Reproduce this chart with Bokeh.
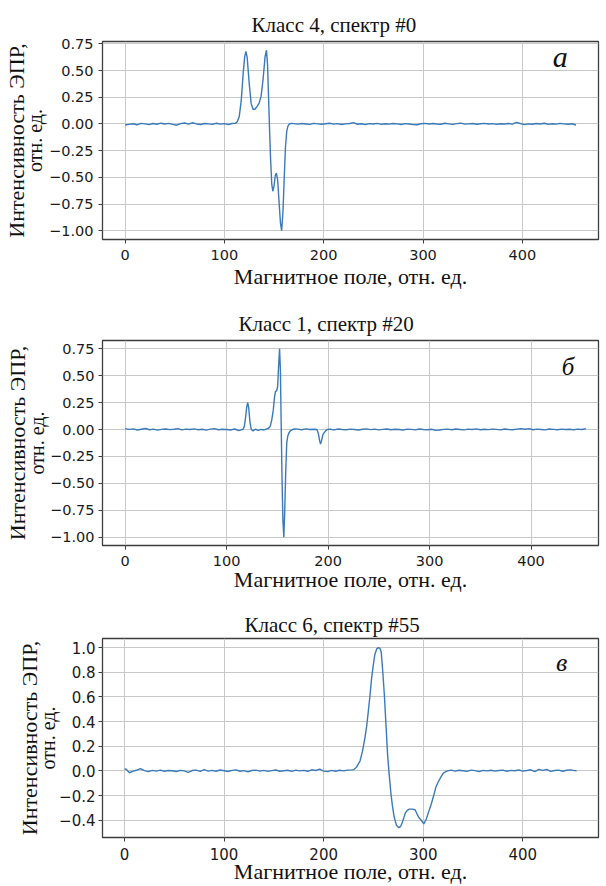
from bokeh.plotting import figure
from bokeh.layouts import column
from bokeh.models import Label, FixedTicker, Range1d, LinearAxis
from bokeh.embed import file_html
from bokeh.resources import INLINE

# ---------------- texts / ticks ----------------
titles = ["Класс 4, спектр #0", "Класс 1, спектр #20", "Класс 6, спектр #55"]
letters = ["а", "б", "в"]
x_title = "Магнитное поле, отн. ед."
y_title_main = "Интенсивность ЭПР,"
y_title_unit = "отн. ед."

x_ticks = [0, 100, 200, 300, 400]
y_ticks_ab = [-1.0, -0.75, -0.5, -0.25, 0.0, 0.25, 0.5, 0.75]
y_labels_ab = ["−1.00", "−0.75", "−0.50", "−0.25", "0.00", "0.25", "0.50", "0.75"]
y_ticks_c = [-0.4, -0.2, 0.0, 0.2, 0.4, 0.6, 0.8, 1.0]
y_labels_c = ["−0.4", "−0.2", "0.0", "0.2", "0.4", "0.6", "0.8", "1.0"]

# ---------------- spectrum a (class 4, #0) ----------------
a_base1_x = [0, 4, 8, 12, 16, 20, 24, 28, 32, 36, 40, 44, 48, 52, 56, 60, 64, 68, 72, 76,
             80, 84, 88, 92, 96, 100, 104, 108]
a_base1_y = [-0.010, -0.004, 0.002, -0.008, 0.005, 0.001, -0.006, 0.004, -0.003, 0.007,
             -0.001, 0.005, -0.004, -0.012, 0.003, 0.009, -0.002, 0.011, 0.000, -0.005,
             0.004, 0.001, -0.004, 0.006, -0.002, 0.003, -0.005, 0.004]
a_peak_x = [111, 113, 115, 117, 119, 120.5, 121.7, 123, 125, 127,
            129, 131, 133, 135, 137, 139, 141, 142.4, 143.5, 144.5,
            145.5, 146.5, 147.7, 148.8, 150, 151.3, 152.4, 153.6, 155, 156.5,
            157.7, 159, 160.3, 161.5, 162.8, 164, 165.5, 167]
a_peak_y = [0.005, 0.02, 0.07, 0.22, 0.48, 0.63, 0.68, 0.62, 0.38, 0.19,
            0.135, 0.14, 0.165, 0.195, 0.26, 0.42, 0.63, 0.69, 0.55, 0.25,
            -0.05, -0.32, -0.56, -0.63, -0.58, -0.48, -0.46, -0.52, -0.72, -0.93,
            -1.0, -0.82, -0.5, -0.22, -0.07, -0.02, 0.0, 0.004]
a_base2_x = [170, 174, 178, 182, 186, 190, 194, 198, 202, 206,
             210, 214, 218, 222, 226, 230, 234, 238, 242, 246,
             250, 254, 258, 262, 266, 270, 274, 278, 282, 286,
             290, 294, 298, 302, 306, 310, 314, 318, 322, 326,
             330, 334, 338, 342, 346, 350, 354, 358, 362, 366,
             370, 374, 378, 382, 386, 390, 394, 398, 402, 406,
             410, 414, 418, 422, 426, 430, 434, 438, 442, 446,
             450, 454]
a_base2_y = [0.003, -0.002, 0.004, 0.000, -0.004, 0.005, 0.001, -0.003, 0.002, 0.006,
             -0.002, 0.003, -0.005, 0.001, 0.004, 0.012, -0.003, 0.002, -0.006, 0.003,
             0.000, 0.005, -0.004, 0.002, -0.002, 0.004, 0.001, -0.005, 0.003, 0.000,
             -0.006, -0.008, 0.002, 0.005, -0.001, 0.004, 0.000, -0.003, 0.006, 0.001,
             -0.004, 0.003, 0.007, -0.002, 0.001, 0.004, -0.003, 0.002, 0.005, -0.001,
             0.003, -0.004, 0.002, 0.000, 0.004, -0.002, 0.015, 0.004, -0.006, 0.001,
             -0.003, 0.004, 0.000, 0.006, -0.004, 0.002, -0.002, 0.005, 0.001, -0.003,
             0.002, -0.010]

# ---------------- spectrum b (class 1, #20) ----------------
b_base1_x = [0, 4, 8, 12, 16, 20, 24, 28, 32, 36, 40, 44, 48, 52, 56, 60, 64, 68, 72, 76,
             80, 84, 88, 92, 96, 100, 104, 108, 112]
b_base1_y = [0.008, 0.002, 0.006, -0.004, 0.003, 0.010, -0.002, 0.004, -0.006, 0.002,
             0.005, -0.001, 0.003, 0.008, -0.003, 0.004, 0.000, 0.006, -0.002, 0.003,
             -0.005, 0.004, 0.009, -0.002, 0.003, 0.001, -0.004, 0.005, -0.010]
b_peak_x = [116, 117.5, 118.8, 119.8, 120.8, 121.8, 123, 124.4, 126, 128.5,
            131, 134, 137, 139.5, 141.4, 143, 144.5, 146, 147.2, 148.2,
            149.3, 150.3, 151.3, 152.2, 153, 153.8, 154.6, 155.5, 156.4, 157.3,
            158.3, 159.3, 160.3, 161.5, 163, 165, 167]
b_peak_y = [0.002, 0.03, 0.12, 0.21, 0.25, 0.20, 0.07, 0.0, -0.012, 0.004,
            -0.008, 0.002, -0.004, 0.006, 0.012, 0.03, 0.09, 0.18, 0.30, 0.355,
            0.36, 0.40, 0.60, 0.75, 0.56, 0.05, -0.45, -0.85, -1.0, -0.75,
            -0.38, -0.12, -0.06, -0.03, -0.01, 0.0, 0.005]
b_mid_x = [170, 174, 178, 182, 186]
b_mid_y = [0.004, -0.002, 0.006, 0.000, 0.003]
b_dip_x = [189, 190.5, 191.8, 192.6, 193.5, 195, 197.5, 199.5]
b_dip_y = [0.0, -0.04, -0.11, -0.135, -0.105, -0.045, -0.012, 0.002]
b_base2_x = [202, 206, 210, 214, 218, 222, 226, 230, 234, 238,
             242, 246, 250, 254, 258, 262, 266, 270, 274, 278,
             282, 286, 290, 294, 298, 302, 306, 310, 314, 318,
             322, 326, 330, 334, 338, 342, 346, 350, 354, 358,
             362, 366, 370, 374, 378, 382, 386, 390, 394, 398,
             402, 406, 410, 414, 418, 422, 426, 430, 434, 438,
             442, 446, 450, 454]
b_base2_y = [0.003, -0.003, 0.005, 0.000, -0.002, 0.004, 0.001, -0.004, 0.003, 0.006,
             -0.001, 0.004, -0.003, 0.002, 0.005, -0.002, 0.003, 0.000, -0.004, 0.004,
             0.002, -0.003, 0.005, 0.001, -0.002, 0.003, -0.008, -0.004, 0.002, 0.004,
             -0.002, 0.005, 0.001, -0.003, 0.004, 0.000, 0.006, -0.002, 0.003, -0.001,
             0.004, 0.002, -0.003, 0.005, 0.001, -0.002, 0.004, 0.008, 0.003, 0.009,
             -0.002, 0.004, 0.001, -0.003, 0.005, 0.002, -0.002, 0.004, 0.000, 0.003,
             -0.002, 0.004, 0.001, 0.007]

# ---------------- spectrum c (class 6, #55) ----------------
c_base1_x = [0, 1.5, 3, 5,
             8, 12, 16, 20, 24, 28, 32, 36, 40, 44,
             48, 52, 56, 60, 64, 68, 72, 76, 80, 84,
             88, 92, 96, 100, 104, 108, 112, 116, 120, 124,
             128, 132, 136, 140, 144, 148, 152, 156, 160, 164,
             168, 172, 176, 180, 184, 188, 192, 196, 200, 204,
             208, 212, 216, 220, 224, 228]
c_base1_y = [0.012, 0.016, 0.002, -0.015,
             -0.004, 0.005, 0.018, 0.002, -0.006, 0.004, -0.002, 0.006, -0.003, 0.003,
             0.001, -0.005, 0.004, 0.000, -0.012, 0.003, 0.006, -0.004, 0.010, -0.002,
             0.004, -0.003, 0.007, 0.001, -0.005, 0.004, 0.008, -0.003, 0.002, -0.008,
             0.003, 0.006, -0.002, 0.004, -0.004, 0.002, 0.007, -0.003, 0.001, 0.005,
             -0.004, 0.006, 0.000, 0.004, -0.003, 0.009, 0.003, 0.014, -0.002, -0.006,
             0.004, -0.003, 0.005, 0.000, 0.006, 0.008]
c_peak_x = [230, 233, 236.5, 239, 241.5, 243.3, 244.8, 246.5, 248, 249.7,
            251.3, 253.3, 255.2, 256.7, 257.8, 259.4, 261, 262.6, 264.2, 265.8,
            267.5, 269, 270.7, 273, 275.6, 277.3, 278.8, 280.5, 282.1, 284,
            286, 289, 291.8, 293.8, 295.7, 298, 300.6, 301.8, 303.1, 305.5,
            308, 310.5, 312.8, 315, 317.7, 320, 322.6, 324.5]
c_peak_y = [0.01, 0.03, 0.08, 0.16, 0.27, 0.37, 0.48, 0.61, 0.74, 0.85,
            0.94, 0.99, 1.0, 0.99, 0.965, 0.80, 0.61, 0.37, 0.13, -0.03,
            -0.18, -0.28, -0.37, -0.44, -0.46, -0.45, -0.42, -0.38, -0.34, -0.32,
            -0.31, -0.31, -0.315, -0.35, -0.38, -0.40, -0.43, -0.41, -0.39, -0.33,
            -0.27, -0.20, -0.13, -0.09, -0.05, -0.02, -0.005, 0.0]
c_base2_x = [328, 332, 336, 340, 344, 348, 352, 356, 360, 364,
             368, 372, 376, 380, 384, 388, 392, 396, 400, 404,
             408, 412, 416, 420, 424, 428, 432, 436, 440, 444,
             448, 452, 454]
c_base2_y = [0.006, -0.002, 0.005, 0.001, -0.004, 0.006, 0.002, -0.006, 0.004, 0.000,
             0.005, -0.002, 0.003, 0.006, -0.003, 0.004, 0.001, 0.007, -0.002, 0.003,
             0.009, -0.005, 0.012, 0.004, 0.013, -0.004, 0.003, 0.006, -0.003, 0.005,
             0.008, 0.002, 0.001]

field_a = a_base1_x + a_peak_x + a_base2_x
signal_a = a_base1_y + a_peak_y + a_base2_y
field_b = b_base1_x + b_peak_x + b_mid_x + b_dip_x + b_base2_x
signal_b = b_base1_y + b_peak_y + b_mid_y + b_dip_y + b_base2_y
field_c = c_base1_x + c_peak_x + c_base2_x
signal_c = c_base1_y + c_peak_y + c_base2_y

SERIF = "Liberation Serif"
SANS = "DejaVu Sans"
LINE = "#3a7ab8"
FRAME = "#3d3d3d"
GRID = "#c8c8c8"
TXT = "#111111"


def make_panel(cfg):
    p = figure(width=cfg["w"], height=cfg["h"], output_backend="svg", toolbar_location=None,
               x_range=Range1d(*cfg["xr"]), y_range=Range1d(*cfg["yr"]),
               min_border_left=cfg["bl"], min_border_right=cfg["br"],
               min_border_top=cfg["bt"], min_border_bottom=cfg["bb"])
    p.background_fill_color = "white"
    p.border_fill_color = "white"
    p.outline_line_color = FRAME
    p.outline_line_width = 1.3

    p.title.text = cfg["title"]
    p.title.text_font = SERIF
    p.title.text_font_size = "21px"
    p.title.text_font_style = "normal"
    p.title.text_color = TXT
    p.title.align = "left"
    p.title.offset = cfg["toff"]
    p.title.standoff = cfg["tstand"]

    xax = p.xaxis[0]
    yax = p.yaxis[0]
    xax.ticker = FixedTicker(ticks=x_ticks, minor_ticks=[])
    yax.ticker = FixedTicker(ticks=cfg["yt"], minor_ticks=[])
    yax.major_label_overrides = {t: s for t, s in zip(cfg["yt"], cfg["yl"])}
    for ax in (xax, yax):
        ax.axis_line_color = None
        ax.major_tick_line_color = FRAME
        ax.major_tick_out = 4
        ax.major_tick_in = 0
        ax.minor_tick_line_color = None
        ax.major_label_text_font = SANS
        ax.major_label_text_font_size = cfg["tick_fs"]
        ax.major_label_text_color = "#1a1a1a"
    yax.major_label_standoff = cfg["ylab_stand"]
    xax.major_label_standoff = 6

    # x axis title
    xax.axis_label = x_title
    xax.axis_label_text_font = SERIF
    xax.axis_label_text_font_size = "22px"
    xax.axis_label_text_font_style = "normal"
    xax.axis_label_text_color = TXT
    xax.axis_label_standoff = cfg["xl_stand"]

    # y axis title: unit line (inner) on the main axis
    yax.axis_label = y_title_unit
    yax.axis_label_text_font = SERIF
    yax.axis_label_text_font_size = "20px"
    yax.axis_label_text_font_style = "normal"
    yax.axis_label_text_color = TXT
    yax.axis_label_standoff = cfg["yu_stand"]

    # main line of the y title on an outer, tick-less axis
    outer = LinearAxis(ticker=FixedTicker(ticks=[], minor_ticks=[]),
                       axis_label=y_title_main,
                       axis_label_text_font=SERIF, axis_label_text_font_size="22px",
                       axis_label_text_font_style="normal", axis_label_text_color=TXT,
                       axis_label_standoff=cfg["ym_stand"],
                       axis_line_color=None, major_tick_line_color=None,
                       minor_tick_line_color=None, major_tick_out=0, major_tick_in=0,
                       major_label_standoff=0)
    p.add_layout(outer, "left")

    p.xgrid.grid_line_color = GRID
    p.ygrid.grid_line_color = GRID
    p.xgrid.grid_line_width = 1
    p.ygrid.grid_line_width = 1

    p.line(cfg["x"], cfg["y"], line_color=LINE, line_width=1.4)

    x0, x1 = cfg["xr"]
    y0, y1 = cfg["yr"]
    fw = cfg["w"] - cfg["bl"] - cfg["br"]
    fh = cfg["h"] - cfg["bt"] - cfg["bb"]
    dx, dy = cfg["letter_pos"]  # pixel offsets from the frame's top-left corner
    p.add_layout(Label(x=x0 + dx * (x1 - x0) / fw, y=y1 - dy * (y1 - y0) / fh,
                       text=cfg["letter"], text_align="center", text_baseline="alphabetic",
                       text_font=SERIF, text_font_size=cfg["letter_fs"],
                       text_font_style="italic", text_color=TXT))
    return p


cfg_a = dict(w=606, h=300, bl=99, br=8, bt=41, bb=61,
             xr=(-22.7, 476.7), yr=(-1.0814, 0.7715), yt=y_ticks_ab, yl=y_labels_ab,
             title=titles[0], toff=149, tstand=10, tick_fs="14.5px", ylab_stand=5,
             xl_stand=1, yu_stand=0, ym_stand=-7,
             x=field_a, y=signal_a,
             letter=letters[0], letter_pos=(460.5, 15), letter_fs="30px")
cfg_b = dict(w=606, h=300, bl=102, br=0, bt=40, bb=55,
             xr=(-22.3, 466.5), yr=(-1.077, 0.827), yt=y_ticks_ab, yl=y_labels_ab,
             title=titles[1], toff=136, tstand=9, tick_fs="14.5px", ylab_stand=4,
             xl_stand=-2, yu_stand=-1, ym_stand=-6,
             x=field_b, y=signal_b,
             letter=letters[1], letter_pos=(473, 26), letter_fs="25px")
cfg_c = dict(w=606, h=286, bl=94, br=0, bt=38, bb=44,
             xr=(-22.1, 476.0), yr=(-0.540, 1.0736), yt=y_ticks_c, yl=y_labels_c,
             title=titles[2], toff=142, tstand=4, tick_fs="15px", ylab_stand=3,
             xl_stand=-4, yu_stand=-3, ym_stand=-7,
             x=field_c, y=signal_c,
             letter=letters[2], letter_pos=(474, 24.5), letter_fs="26px")

p1 = make_panel(cfg_a)
p2 = make_panel(cfg_b)
p3 = make_panel(cfg_c)

layout = column(p1, p2, p3, spacing=0)
open("out.html", "w").write(file_html(layout, INLINE))
